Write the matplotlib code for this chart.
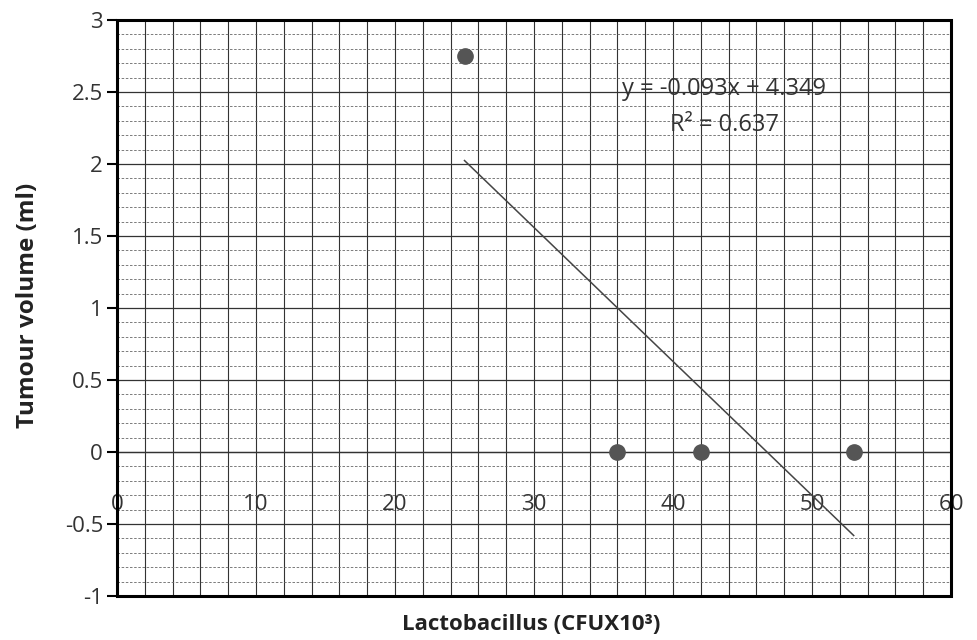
import numpy as np
import matplotlib
matplotlib.use("Agg")
import matplotlib.pyplot as plt
from matplotlib.patches import Rectangle
from matplotlib.ticker import MultipleLocator

# data
lacto = [25, 36, 42, 53]
tumour = [2.75, 0.0, 0.0, 0.0]
slope = -0.093
intercept = 4.349
r2 = 0.637
xticks = [0, 10, 20, 30, 40, 50, 60]
yticks = [-1, -0.5, 0, 0.5, 1, 1.5, 2, 2.5, 3]

plt.rcParams['font.family'] = ['Open Sans', 'DejaVu Sans']

fig = plt.figure(figsize=(9.77, 6.4), dpi=100)
ax = fig.add_axes([117/977, 44/640, 834/977, 576/640])

ax.set_xlim(0, 60)
ax.set_ylim(-1, 3)

# grid
ax.yaxis.set_major_locator(MultipleLocator(0.5))
ax.yaxis.set_minor_locator(MultipleLocator(0.1))
ax.xaxis.set_major_locator(MultipleLocator(10))
ax.xaxis.set_minor_locator(MultipleLocator(2))
ax.grid(axis='y', which='major', color='#333333', lw=0.9)
ax.grid(axis='y', which='minor', color='#666666', lw=0.6, ls=(0, (3, 2)))
ax.grid(axis='x', which='both', color='#333333', lw=0.8)
ax.set_axisbelow(True)

# x axis crosses at y=0
ax.spines['bottom'].set_position(('data', 0))
ax.spines['bottom'].set_linewidth(0.9)
ax.spines['bottom'].set_color('#333333')
for s in ['top', 'right', 'left']:
    ax.spines[s].set_visible(False)
ax.add_patch(Rectangle((0, 0), 1, 1, transform=ax.transAxes, fill=False,
                       lw=2.2, ec='black', clip_on=False, zorder=5))

ax.set_xticks(xticks)
ax.set_xticklabels([str(v) for v in xticks], fontsize=16, color='#333333')
ax.tick_params(axis='x', which='both', length=0, pad=30)
ax.set_yticks(yticks)
ax.set_yticklabels(['%g' % v for v in yticks], fontsize=16, color='#333333')
ax.tick_params(axis='y', which='major', length=7, width=1.5, direction='out', pad=3)
ax.tick_params(axis='y', which='minor', length=0)

# points and trend line
ax.plot(lacto, tumour, 'o', color='#555555', ms=11, zorder=4)
xfit = np.array([min(lacto), max(lacto)])
ax.plot(xfit, slope * xfit + intercept, color='#444444', lw=1.1, zorder=3)

ax.text(43.7, 2.52, "y = %.3fx + %.3f" % (slope, intercept), fontsize=17,
        ha='center', va='center', color='#333333')
ax.text(43.7, 2.27, "R² = %.3f" % r2, fontsize=17,
        ha='center', va='center', color='#333333')

fig.text(531/977, 1 - 625/640, "Lactobacillus (CFUX10³)", fontsize=16,
         ha='center', va='center', color='#222222', fontweight='bold')
fig.text(28/977, 1 - 305/640, "Tumour volume (ml)", fontsize=17.5, rotation=90,
         ha='center', va='center', color='#222222', fontweight='bold')

fig.savefig("out.png", dpi=100)
